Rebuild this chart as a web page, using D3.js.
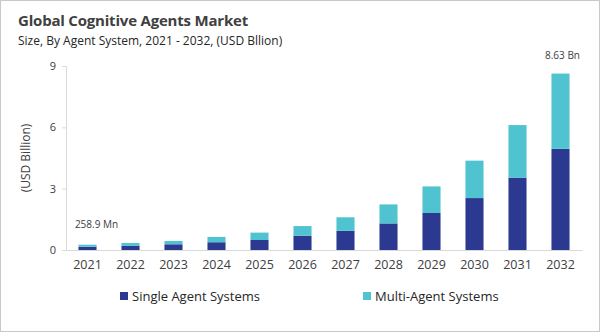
<!DOCTYPE html>
<html>
<head>
<meta charset="utf-8">
<script src="https://cdn.jsdelivr.net/npm/d3@7"></script>
<style>
  body { margin: 0; background: #fff; }
  svg { display: block; font-family: "Open Sans", sans-serif; }
</style>
</head>
<body>
<svg width="600" height="332"></svg>
<script>
// данные графика
const years = ["2021", "2022", "2023", "2024", "2025", "2026", "2027", "2028", "2029", "2030", "2031", "2032"];
const singleAgent = [0.16, 0.20, 0.28, 0.38, 0.49, 0.70, 0.94, 1.30, 1.81, 2.54, 3.54, 4.95];
const multiAgent = [0.099, 0.14, 0.16, 0.26, 0.36, 0.47, 0.66, 0.93, 1.30, 1.83, 2.57, 3.68];
const yTicks = [0, 3, 6, 9];
const seriesNames = ["Single Agent Systems", "Multi-Agent Systems"];
const colors = ["#2b3990", "#4fc3cf"];

const svg = d3.select("svg");

// рамка
svg.append("rect")
   .attr("x", 0.5).attr("y", 0.5)
   .attr("width", 599).attr("height", 331)
   .style("fill", "none").style("stroke", "#c8c8c8");

// заголовки
svg.append("text")
   .attr("x", 18).attr("y", 26)
   .style("font-size", "15px").style("font-weight", "bold").style("fill", "#404040")
   .style("letter-spacing", "-0.2px")
   .text("Global Cognitive Agents Market");
svg.append("text")
   .attr("x", 18).attr("y", 45)
   .style("font-size", "12px").style("fill", "#262626")
   .text("Size, By Agent System, 2021 - 2032, (USD Bllion)");

const area = { left: 66, right: 582, top: 66, bottom: 250 };

const rows = years.map((y, i) => ({ year: y, single: singleAgent[i], multi: multiAgent[i] }));
const stack = d3.stack().keys(["single", "multi"])(rows);

const scX = d3.scaleBand()
    .domain(years)
    .range([area.left, area.right])
    .paddingInner(0.58)
    .paddingOuter(0.29);

const scY = d3.scaleLinear()
    .domain([0, 9])
    .range([area.bottom, area.top]);

// ось OY
const axisY = svg.append("g")
   .attr("transform", `translate(${area.left}, 0)`)
   .call(d3.axisLeft(scY).tickValues(yTicks).tickSize(4).tickPadding(6));
axisY.select(".domain").style("stroke", "#d9d9d9");
axisY.selectAll(".tick line").style("stroke", "#d9d9d9");
axisY.selectAll("text").style("font-size", "11px").style("fill", "#404040").style("font-family", "Open Sans, sans-serif");

// ось OX
const axisX = svg.append("g")
   .attr("transform", `translate(0, ${area.bottom})`)
   .call(d3.axisBottom(scX).tickSize(0).tickPadding(10));
axisX.select(".domain").style("stroke", "#d9d9d9");
axisX.selectAll("text").style("font-size", "12.5px").style("fill", "#404040").style("font-family", "Open Sans, sans-serif");

// подпись оси OY
svg.append("text")
   .attr("transform", `translate(30, ${(area.top + area.bottom) / 2}) rotate(-90)`)
   .style("text-anchor", "middle")
   .style("font-size", "12px").style("fill", "#404040")
   .text("(USD Billion)");

// столбцы
svg.selectAll(".layer")
   .data(stack)
   .enter()
   .append("g")
   .style("fill", (d, i) => colors[i])
   .selectAll("rect")
   .data(d => d)
   .enter()
   .append("rect")
   .attr("x", d => scX(d.data.year))
   .attr("y", d => scY(d[1]))
   .attr("width", scX.bandwidth())
   .attr("height", d => scY(d[0]) - scY(d[1]));

// подписи значений
svg.append("text")
   .attr("x", scX(years[0]) + scX.bandwidth() / 2 + 9)
   .attr("y", 228)
   .style("text-anchor", "middle")
   .style("font-size", "10px").style("fill", "#404040")
   .text("258.9  Mn");
svg.append("text")
   .attr("x", scX(years[11]) + scX.bandwidth() / 2 + 2)
   .attr("y", 59)
   .style("text-anchor", "middle")
   .style("font-size", "10px").style("fill", "#404040")
   .text("8.63  Bn");

// легенда
const legendX = [120, 363];
const legend = svg.selectAll(".legend")
   .data(seriesNames)
   .enter()
   .append("g")
   .attr("transform", (d, i) => `translate(${legendX[i]}, 292)`);
legend.append("rect")
   .attr("width", 8).attr("height", 8)
   .style("fill", (d, i) => colors[i]);
legend.append("text")
   .attr("x", 12).attr("y", 9)
   .style("font-size", "13px").style("fill", "#262626")
   .text(d => d);
</script>
</body>
</html>
